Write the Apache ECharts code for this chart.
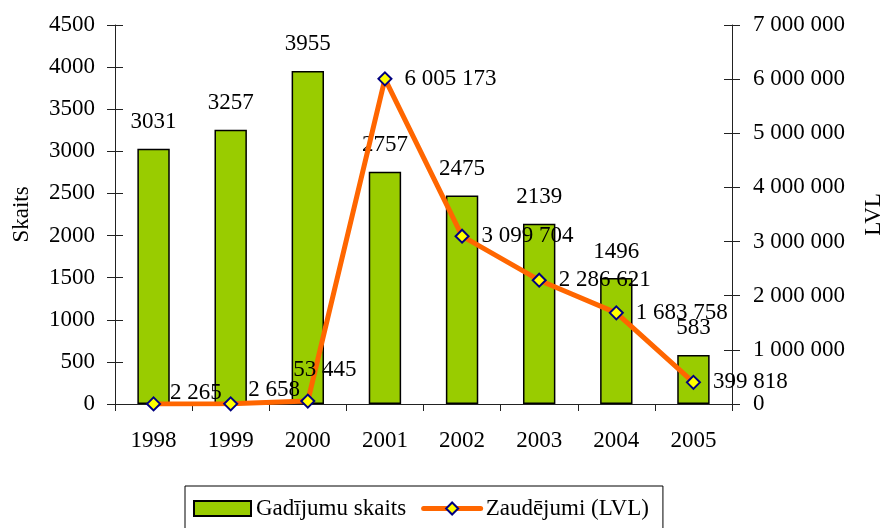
<!DOCTYPE html>
<html><head><meta charset="utf-8">
<script src="https://cdn.jsdelivr.net/npm/echarts@6/dist/echarts.min.js"></script>
<style>html,body{margin:0;padding:0;background:#fff}#c{width:883px;height:528px}</style>
</head><body><div id="c"></div>
<script>
var years = ['1998','1999','2000','2001','2002','2003','2004','2005'];
var cases = [3031, 3257, 3955, 2757, 2475, 2139, 1496, 583];
var losses = [2265, 2658, 53445, 6005173, 3099704, 2286621, 1683758, 399818];
var barName = 'Gadījumu skaits';
var lineName = 'Zaudējumi (LVL)';

var FONT = '"Liberation Serif", "Times New Roman", serif';
var FS = 23;
function fmt(v){ return String(v).replace(/\B(?=(\d{3})+(?!\d))/g, ' '); }
function plain(v){ return String(v); }

var lineData = losses.map(function(v, i){
  if (i === 0) return {value: v, label: {offset: [-3, -11]}};
  if (i === 1) return {value: v, label: {offset: [-2, -14]}};
  if (i === 2) return {value: v, label: {position: 'top', distance: 12, offset: [17, 0]}};
  return v;
});

var chart = echarts.init(document.getElementById('c'), null, {renderer: 'canvas'});
chart.setOption({
  backgroundColor: '#fff',
  animation: false,
  textStyle: {fontFamily: FONT, color: '#000'},
  grid: {left: 115, right: 151, top: 25, bottom: 124, containLabel: false, outerBoundsMode: 'none'},
  legend: {
    left: 185, top: 486,
    padding: [11, 14, 12, 8],
    borderColor: '#000', borderWidth: 1,
    itemWidth: 57, itemHeight: 15, itemGap: 15,
    textStyle: {fontFamily: FONT, fontSize: FS, color: '#000'},
    data: [
      {name: barName, icon: 'rect'},
      {name: lineName, lineStyle: {width: 5, cap: 'round'}}
    ]
  },
  xAxis: {
    type: 'category', data: years,
    axisLine: {lineStyle: {color: '#222', width: 1}},
    axisTick: {show: true, inside: false, length: 7, lineStyle: {color: '#222'}},
    axisLabel: {fontFamily: FONT, fontSize: FS, color: '#000', margin: 25},
    splitLine: {show: false}
  },
  yAxis: [
    {
      type: 'value', min: 0, max: 4500, interval: 500, position: 'left',
      name: 'Skaits', nameLocation: 'middle', nameRotate: 90, nameGap: 82,
      nameTextStyle: {fontFamily: FONT, fontSize: FS, color: '#000'},
      axisLine: {show: true, lineStyle: {color: '#222'}},
      axisTick: {show: true, inside: false, length: 8, lineStyle: {color: '#222'}},
      axisLabel: {fontFamily: FONT, fontSize: FS, color: '#000', margin: 20, formatter: plain},
      splitLine: {show: false}
    },
    {
      type: 'value', min: 0, max: 7000000, interval: 1000000, position: 'right',
      name: 'LVL', nameLocation: 'middle', nameRotate: 90, nameGap: 130,
      nameTextStyle: {fontFamily: FONT, fontSize: FS, color: '#000'},
      axisLine: {show: true, lineStyle: {color: '#222'}},
      axisTick: {show: true, inside: false, length: 8, lineStyle: {color: '#222'}},
      axisLabel: {fontFamily: FONT, fontSize: FS, color: '#000', margin: 21, formatter: fmt},
      splitLine: {show: false}
    },
    {
      type: 'value', min: 0, max: 4500, interval: 500, position: 'left', offset: 0,
      axisLine: {show: false}, axisLabel: {show: false}, splitLine: {show: false},
      axisTick: {show: true, inside: true, length: 8, lineStyle: {color: '#222'}}
    },
    {
      type: 'value', min: 0, max: 7000000, interval: 1000000, position: 'right', offset: 0,
      axisLine: {show: false}, axisLabel: {show: false}, splitLine: {show: false},
      axisTick: {show: true, inside: true, length: 8, lineStyle: {color: '#222'}}
    }
  ],
  series: [
    {
      name: barName, type: 'bar', yAxisIndex: 0, data: cases, barWidth: '42%',
      itemStyle: {color: '#99CC00', borderColor: '#000', borderWidth: 1.5},
      label: {show: true, position: 'top', distance: 15, fontFamily: FONT, fontSize: FS, color: '#000'}
    },
    {
      name: lineName, type: 'line', yAxisIndex: 1, data: lineData,
      symbol: 'diamond', symbolSize: 13, showAllSymbol: true,
      lineStyle: {color: '#FF6600', width: 5},
      itemStyle: {color: '#FFFF00', borderColor: '#000080', borderWidth: 2},
      label: {show: true, position: 'right', distance: 12, fontFamily: FONT, fontSize: FS, color: '#000',
        formatter: function(p){ return fmt(p.value); }},
      z: 5
    }
  ]
});
</script></body></html>
